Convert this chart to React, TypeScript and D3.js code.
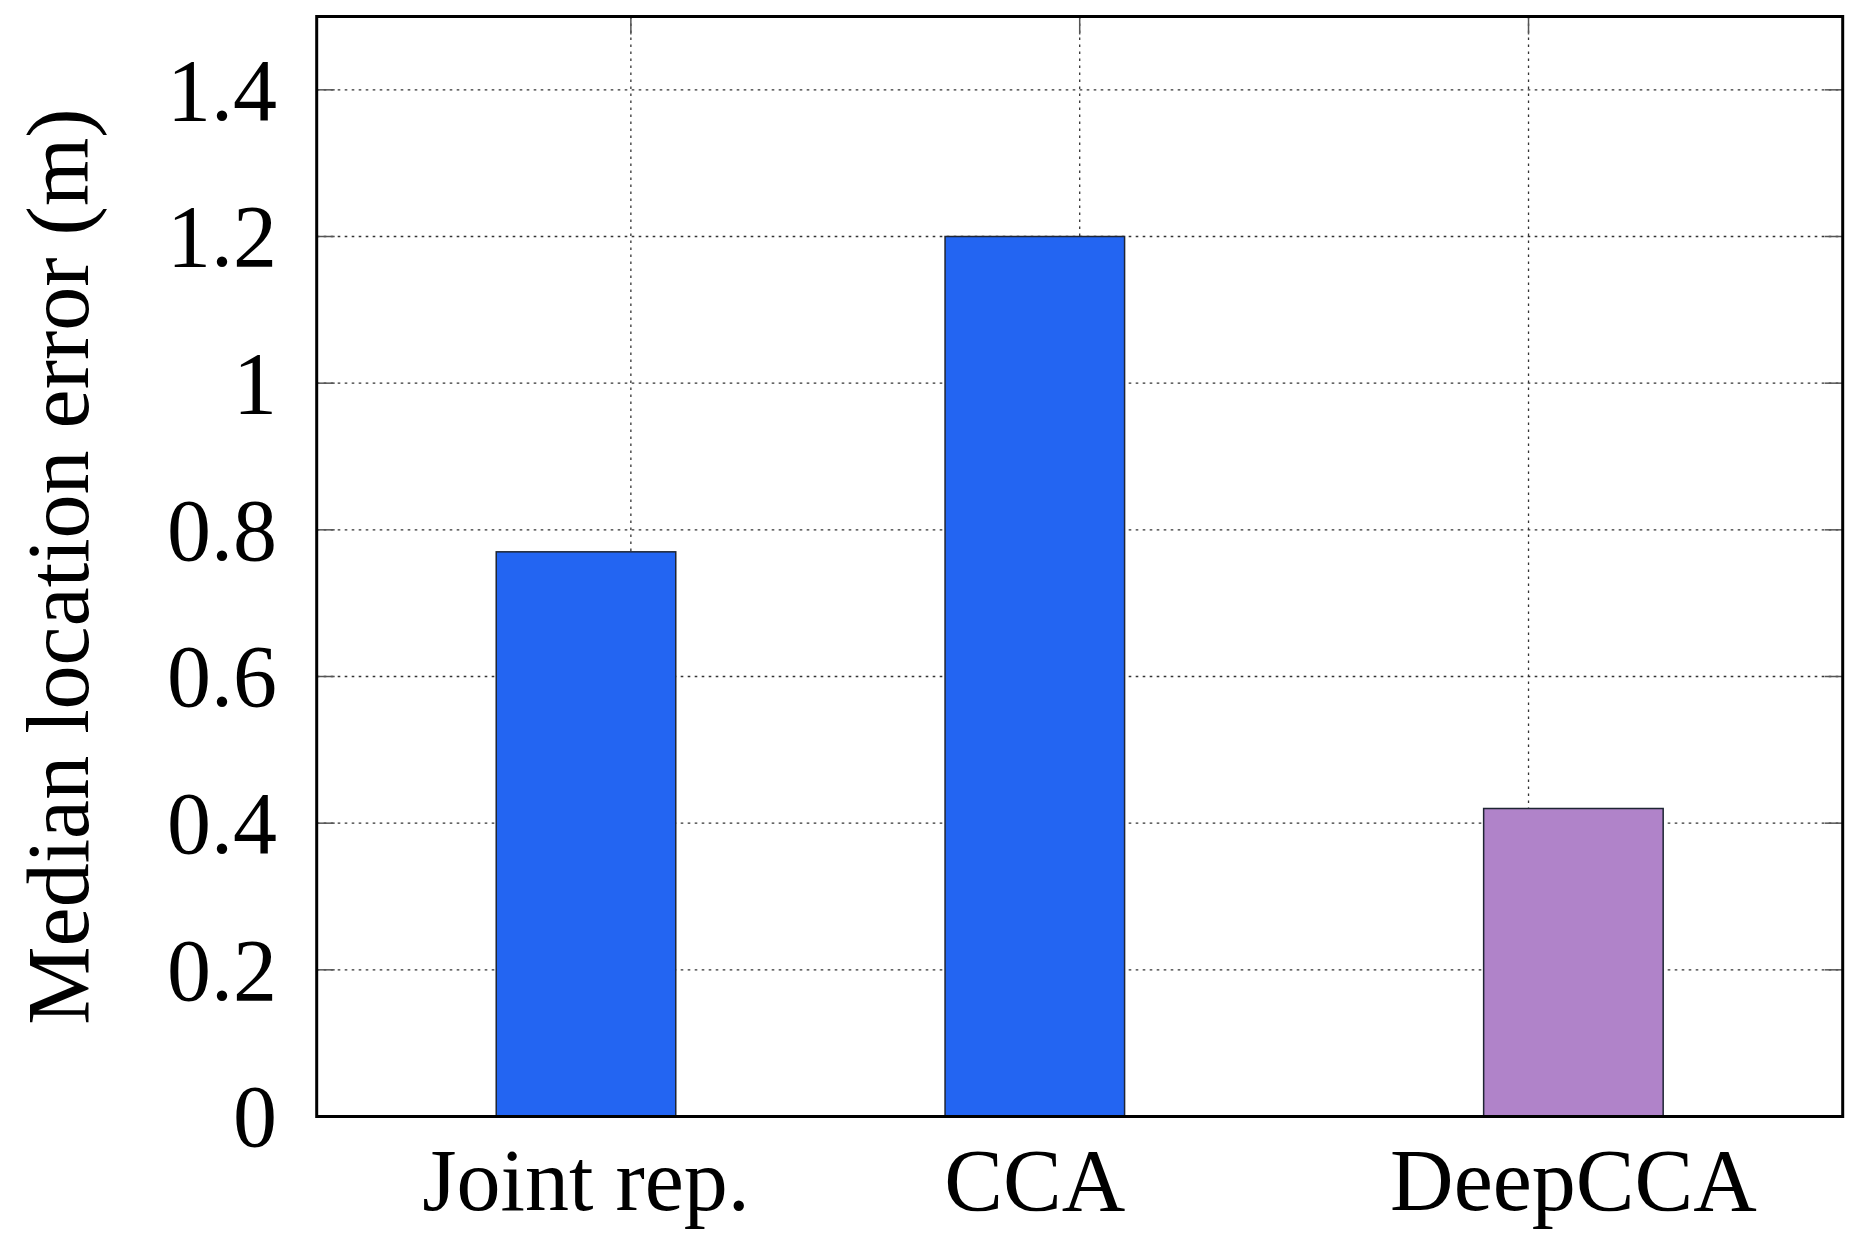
import React from "react";
import * as d3 from "d3";

const categories = ["Joint rep.", "CCA", "DeepCCA"];
const categoryPos = [1, 2, 3];
const seriesBlue = [0.77, 1.2, null];
const seriesPurple = [null, null, 0.42];
const yTicks = [0, 0.2, 0.4, 0.6, 0.8, 1, 1.2, 1.4];
const yLabel = "Median location error (m)";

const W = 1860;
const H = 1254;
const left = 316.7;
const right = 1842.7;
const top = 16.5;
const bottom = 1116.5;

export default function App() {
  const x = d3.scaleLinear().domain([0.3, 3.7]).range([left, right]);
  const y = d3.scaleLinear().domain([0, 1.5]).range([bottom, top]);
  const barW = x(1.4) - x(1);
  const shift = 0.1;
  const font = "'Liberation Serif', 'Times New Roman', serif";
  const fs = 88;

  const bars: { pos: number; v: number; color: string }[] = [];
  seriesBlue.forEach((v, i) => {
    if (v != null) bars.push({ pos: categoryPos[i] - shift, v, color: "#2365f2" });
  });
  seriesPurple.forEach((v, i) => {
    if (v != null) bars.push({ pos: categoryPos[i] + shift, v, color: "#b083c9" });
  });
  const labelPos = categoryPos.map((p, i) =>
    seriesBlue[i] != null ? p - shift : p + shift
  );

  return (
    <svg
      width={W}
      height={H}
      style={{ position: "absolute", left: 0, top: 0, background: "#fff" }}
    >
      <rect x={0} y={0} width={W} height={H} fill="#fff" />
      {/* grid */}
      <g stroke="#333" strokeWidth={1.3} strokeDasharray="2.6 4.4">
        {yTicks.slice(1).map((t) => (
          <line key={"gy" + t} x1={left} x2={right} y1={y(t)} y2={y(t)} />
        ))}
        {categoryPos.map((p) => (
          <line key={"gx" + p} x1={x(p)} x2={x(p)} y1={top} y2={bottom} />
        ))}
      </g>
      {/* ticks */}
      <g stroke="#555" strokeWidth={1.5}>
        {yTicks.map((t) => (
          <g key={"t" + t}>
            <line x1={left} x2={left + 18} y1={y(t)} y2={y(t)} />
            <line x1={right - 18} x2={right} y1={y(t)} y2={y(t)} />
          </g>
        ))}
        {categoryPos.map((p) => (
          <line key={"tx" + p} x1={x(p)} x2={x(p)} y1={top} y2={top + 18} />
        ))}
      </g>
      {/* bars */}
      {bars.map((b, i) => (
        <rect
          key={i}
          x={x(b.pos) - barW / 2}
          y={y(b.v)}
          width={barW}
          height={y(0) - y(b.v)}
          fill={b.color}
          stroke="#1e2533"
          strokeWidth={1.5}
        />
      ))}
      {/* frame */}
      <rect
        x={left}
        y={top}
        width={right - left}
        height={bottom - top}
        fill="none"
        stroke="#000"
        strokeWidth={3}
      />
      {/* y tick labels */}
      {yTicks.map((t) => (
        <text
          key={"yl" + t}
          x={277}
          y={y(t)}
          dy={fs * 0.34}
          textAnchor="end"
          fontFamily={font}
          fontSize={fs}
          fill="#000"
        >
          {d3.format("~g")(t)}
        </text>
      ))}
      {/* x labels */}
      {categories.map((c, i) => (
        <text
          key={c}
          x={x(labelPos[i])}
          y={1210}
          textAnchor="middle"
          fontFamily={font}
          fontSize={fs}
          fill="#000"
        >
          {c}
        </text>
      ))}
      {/* y axis label */}
      <text
        transform={`translate(88, ${(top + bottom) / 2}) rotate(-90)`}
        textAnchor="middle"
        fontFamily={font}
        fontSize={fs}
        fill="#000"
      >
        {yLabel}
      </text>
    </svg>
  );
}
